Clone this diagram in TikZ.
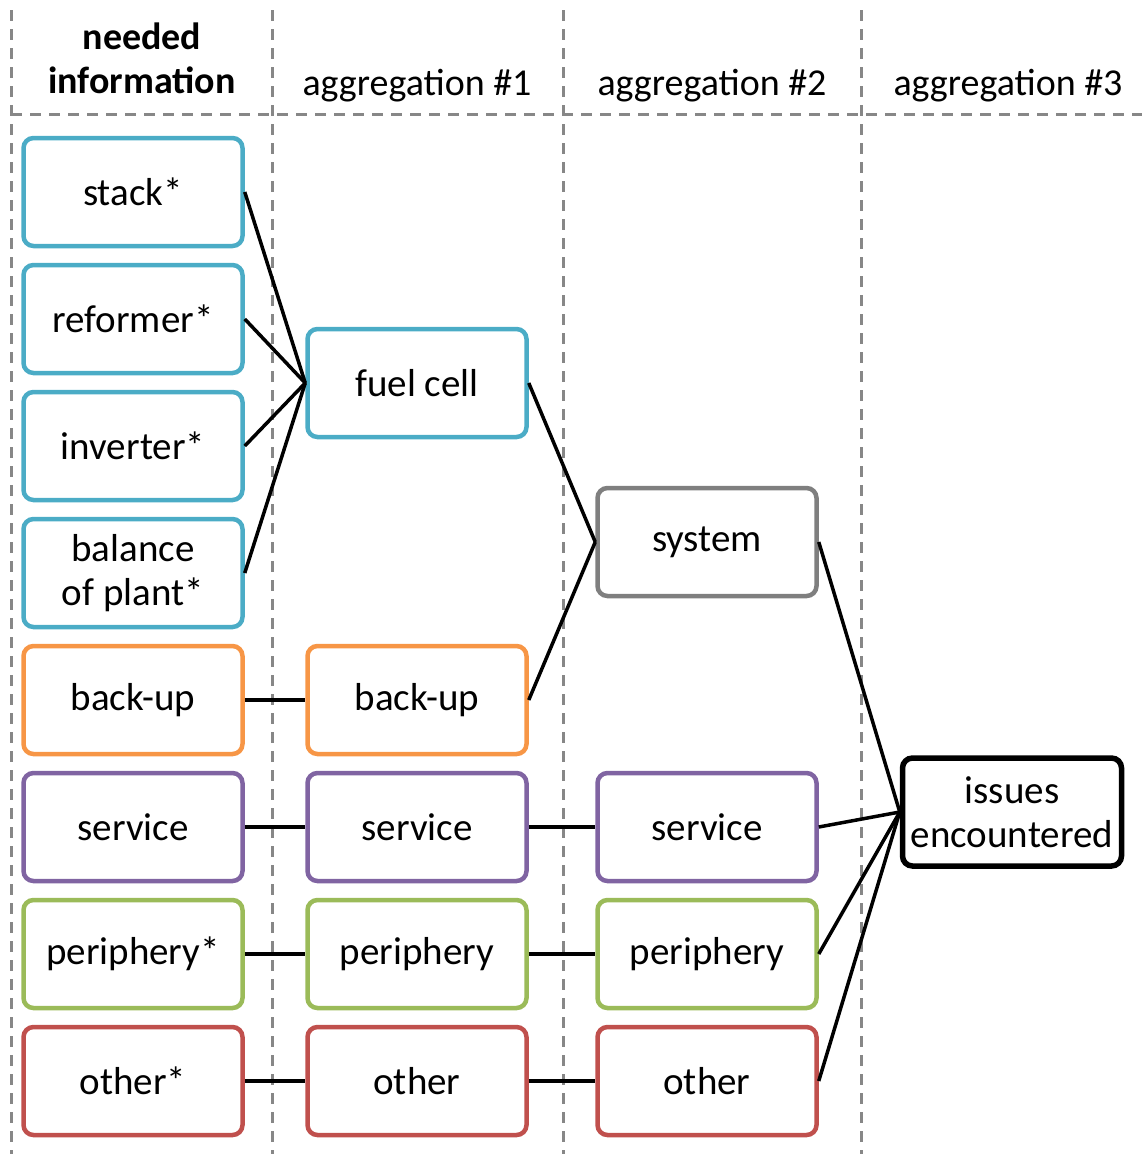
\documentclass[tikz,border=0pt]{standalone}
\usepackage{fontspec}
\setmainfont{Carlito}
\usetikzlibrary{positioning}
\definecolor{fcblue}{HTML}{4BACC6}
\definecolor{buorange}{HTML}{F79646}
\definecolor{svpurple}{HTML}{8064A2}
\definecolor{pegreen}{HTML}{9BBB59}
\definecolor{otred}{HTML}{C0504D}
\definecolor{sysgray}{HTML}{7F7F7F}
\definecolor{gridgray}{HTML}{878787}

\begin{document}
\begin{tikzpicture}[x=1pt, y=-1pt, node distance=14.5pt]
\tikzset{box/.style={draw, rounded corners=10pt, line width=4.5pt, minimum width=219pt, minimum height=108pt, align=center, inner sep=2pt, font=\fontsize{39}{44}\selectfont},
  head/.style={align=center, anchor=base, font=\fontsize{38}{44}\selectfont},
  grid/.style={draw=gridgray, line width=3pt, dash pattern=on 11pt off 8pt},
  link/.style={line width=3.5pt}}
\useasboundingbox (0,0) rectangle (1142,1154);

% column grid
\draw[grid] (11,10) -- (11,1154);
\draw[grid] (272,10) -- (272,1154);
\draw[grid] (563,10) -- (563,1154);
\draw[grid] (861,10) -- (861,1154);
\draw[grid] (11,114) -- (1142,114);

% headings
\node[head, font=\fontsize{38}{44}\selectfont\bfseries] (needed) at (142,93) {needed\\information};
\node[head] (agg1) at (417,95) {aggregation \#1};
\node[head] (agg2) at (712,95) {aggregation \#2};
\node[head] (agg3) at (1008,95) {aggregation \#3};

% needed information
\node[box, draw=fcblue] (stack) at (133,192) {stack*};
\node[box, draw=fcblue, below=of stack] (reformer) {reformer*};
\node[box, draw=fcblue, below=of reformer] (inverter) {inverter*};
\node[box, draw=fcblue, below=of inverter] (bop) {balance\\of plant*};
\node[box, draw=buorange, below=of bop] (backup) {back-up};
\node[box, draw=svpurple, below=of backup] (service) {service};
\node[box, draw=pegreen, below=of service] (periph) {periphery*};
\node[box, draw=otred, below=of periph] (other) {other*};

% aggregation #1
\node[box, draw=fcblue] (fuelcell) at (417,383) {fuel cell};
\node[box, draw=buorange, right=60.5pt of backup] (backupA) {back-up};
\node[box, draw=svpurple, right=60.5pt of service] (serviceA) {service};
\node[box, draw=pegreen, right=60.5pt of periph] (periphA) {periphery};
\node[box, draw=otred, right=60.5pt of other] (otherA) {other};

% aggregation #2
\node[box, draw=sysgray] (system) at (707,542) {system};
\node[box, draw=svpurple, right=66.5pt of serviceA] (serviceB) {service};
\node[box, draw=pegreen, right=66.5pt of periphA] (periphB) {periphery};
\node[box, draw=otred, right=66.5pt of otherA] (otherB) {other};

% aggregation #3
\node[box, draw=black, line width=5.5pt] (issues) at (1012,812) {issues\\encountered};

\draw[link] (stack.east) -- (fuelcell.west);
\draw[link] (reformer.east) -- (fuelcell.west);
\draw[link] (inverter.east) -- (fuelcell.west);
\draw[link] (bop.east) -- (fuelcell.west);
\draw[link] (backup) -- (backupA);
\draw[link] (service) -- (serviceA);
\draw[link] (periph) -- (periphA);
\draw[link] (other) -- (otherA);

\draw[link] (fuelcell.east) -- (system.west);
\draw[link] (backupA.east) -- (system.west);
\draw[link] (serviceA) -- (serviceB);
\draw[link] (periphA) -- (periphB);
\draw[link] (otherA) -- (otherB);

\draw[link] (system.east) -- (issues.west);
\draw[link] (serviceB.east) -- (issues.west);
\draw[link] (periphB.east) -- (issues.west);
\draw[link] (otherB.east) -- (issues.west);
\end{tikzpicture}
\end{document}
